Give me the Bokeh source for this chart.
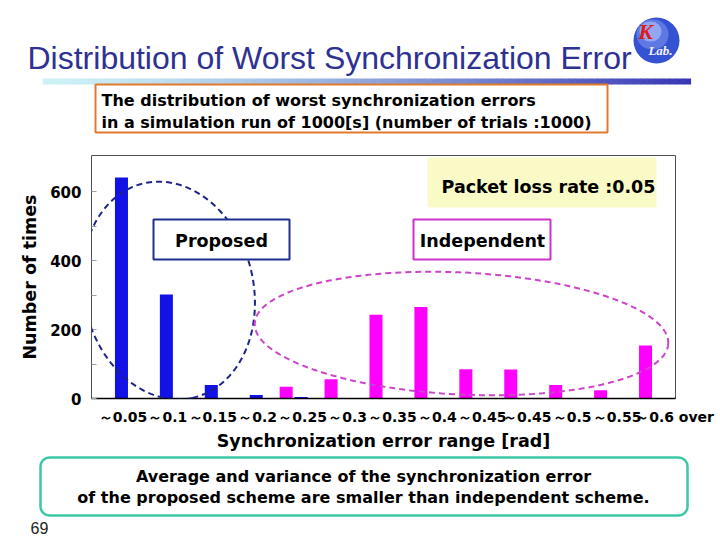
import numpy as np
from bokeh.plotting import figure
from bokeh.layouts import column
from bokeh.models import (ColumnDataSource, Range1d, FixedTicker, Label,
                          BoxAnnotation, PolyAnnotation)
from bokeh.transform import dodge
from bokeh.embed import file_html
from bokeh.resources import INLINE

# ---------------- data ----------------
ranges = ["～0.05", "～0.1", "～0.15", "～0.2", "～0.25", "～0.3", "～0.35",
          "～0.4", "～0.45", "～0.5", "～0.55", "～0.6", "0.6 over"]
tick_labels = ["～0.05", "～0.1", "～0.15", "～0.2", "～0.25", "～0.3", "～0.35",
               "～0.4", "～0.45", "～0.45", "～0.5", "～0.55", "～0.6 over"]
proposed = [642, 302, 39, 10, 4, 0, 0, 0, 0, 0, 0, 0, 0]
independent = [0, 0, 0, 0, 34, 56, 243, 266, 85, 84, 39, 24, 154]
y_ticks = [0, 100, 200, 300, 400, 500, 600]
y_tick_labels = ["0", "", "200", "", "400", "", "600"]

title_text = "Distribution of Worst Synchronization Error"
subtitle_lines = ["The distribution of worst synchronization errors",
                  "in a simulation run of 1000[s] (number of trials :1000)"]
note_lines = ["Average and variance of the synchronization error",
              "of the proposed scheme are smaller than independent scheme."]
loss_text = "Packet loss rate :0.05"
page_no = "69"

FONT = "DejaVu Sans"
W = 720
H_HEAD, H_CHART, H_FOOT = 146, 308, 86
CHART_TOP = H_HEAD               # page y of chart canvas top
FOOT_TOP = CHART_TOP + H_CHART   # page y of footer canvas top
FRAME_L, FRAME_R, FRAME_T, FRAME_B = 91, 675, 155, 398   # page coords

n = len(ranges)

# ---------------- chart ----------------
p = figure(width=W, height=H_CHART, x_range=Range1d(0, n), y_range=Range1d(0, 706),
           title=None, output_backend="svg", toolbar_location=None, frame_align=False,
           min_border_left=FRAME_L, min_border_right=W - FRAME_R,
           min_border_top=FRAME_T - CHART_TOP, min_border_bottom=CHART_TOP + H_CHART - FRAME_B)
p.outline_line_color = "#505050"
p.outline_line_width = 1
p.xgrid.visible = False
p.ygrid.visible = False
p.background_fill_color = "white"
p.border_fill_color = "white"

# y axis
p.yaxis.ticker = FixedTicker(ticks=y_ticks)
p.yaxis.major_label_overrides = {t: l for t, l in zip(y_ticks, y_tick_labels)}
p.yaxis.axis_line_color = None
p.yaxis.major_tick_in = 5
p.yaxis.major_tick_out = 0
p.yaxis.major_tick_line_color = "#a0a0a0"
p.yaxis.minor_tick_line_color = None
p.yaxis.major_label_text_font = FONT
p.yaxis.major_label_text_font_size = "15px"
p.yaxis.major_label_text_font_style = "bold"
p.yaxis.major_label_text_color = "black"
p.yaxis.major_label_standoff = 10
p.yaxis.axis_label = "Number of times"
p.yaxis.axis_label_text_font = FONT
p.yaxis.axis_label_text_font_size = "17.5px"
p.yaxis.axis_label_text_font_style = "bold"
p.yaxis.axis_label_text_color = "black"
p.yaxis.axis_label_standoff = 7

# x axis: one slot per range bin; labels nudged right and de-overlapped
px_per_cat = (FRAME_R - FRAME_L) / n
LABEL_PX = 14


def text_w(s):
    return sum(LABEL_PX * (1.0 if ch == "～" else 0.36 if ch in ". " else 0.66) for ch in s)


tick_pos = []
prev_right = -1e9
right_limit = n + (W - FRAME_R - 3) / px_per_cat
for i, s in enumerate(tick_labels):
    w = text_w(s) / px_per_cat
    c = i + 0.5 + 0.2
    c = max(c, prev_right - 4 / px_per_cat + w / 2)
    c = min(c, right_limit - w / 2, n - 0.02)
    c = round(c, 4)
    tick_pos.append(c)
    prev_right = c + w / 2

xax = p.xaxis[0]
xax.ticker = FixedTicker(ticks=tick_pos)
xax.major_label_overrides = {c: s for c, s in zip(tick_pos, tick_labels)}
xax.major_tick_line_color = None
xax.minor_tick_line_color = None
xax.axis_line_color = "black"
xax.axis_line_width = 1.5
xax.major_label_text_font = FONT
xax.major_label_text_font_size = f"{LABEL_PX}px"
xax.major_label_text_font_style = "bold"
xax.major_label_text_color = "black"
xax.major_label_standoff = 4
xax.axis_label = "Synchronization error range [rad]"
xax.axis_label_text_font = FONT
xax.axis_label_text_font_size = "17.5px"
xax.axis_label_text_font_style = "bold"
xax.axis_label_text_color = "black"
xax.axis_label_standoff = 3

# bars (slot i centred at i + 0.5)
src = ColumnDataSource(dict(cat=ranges, slot=[i + 0.5 for i in range(n)],
                            proposed=proposed, independent=independent))
p.vbar(x=dodge("slot", 0.167), top="proposed", width=0.29, source=src,
       fill_color="#1212e6", line_color=None)
p.vbar(x=dodge("slot", -0.167), top="independent", width=0.29, source=src,
       fill_color="#ff00ff", line_color=None)


# ---------------- decoration helpers ----------------
def deco_fig(h):
    f = figure(width=W, height=h, x_range=Range1d(0, W), y_range=Range1d(0, h),
               x_axis_type=None, y_axis_type=None, title=None, toolbar_location=None,
               output_backend="svg", min_border=0, outline_line_color=None,
               frame_align=False)
    f.background_fill_color = "white"
    f.border_fill_color = "white"
    return f


head = deco_fig(H_HEAD)
foot = deco_fig(H_FOOT)


def mapper(fig):
    if fig is p:
        return (lambda x: x), (lambda y: y - CHART_TOP), "canvas"
    if fig is head:
        return (lambda x: x), (lambda y: H_HEAD - y), "data"
    return (lambda x: x), (lambda y: H_FOOT - (y - FOOT_TOP)), "data"


def box(fig, l, t, r, b, fill=None, line=None, lw=1, radius=0):
    mx, my, u = mapper(fig)
    yt, yb = my(t), my(b)
    if u == "data":
        yt, yb = max(yt, yb), min(yt, yb)
    fig.add_layout(BoxAnnotation(left=mx(l), right=mx(r), top=yt, bottom=yb,
                                 left_units=u, right_units=u, top_units=u, bottom_units=u,
                                 fill_color=fill, fill_alpha=1 if fill else 0,
                                 line_color=line, line_alpha=1 if line else 0,
                                 line_width=lw, border_radius=radius))


def label(fig, x, y, text, size, color="black", align="center", baseline="middle",
          font=FONT, style="bold"):
    mx, my, u = mapper(fig)
    fig.add_layout(Label(x=mx(x), y=my(y), x_units=u, y_units=u, text=text,
                         text_font=font, text_font_size=f"{size}px", text_font_style=style,
                         text_color=color, text_align=align, text_baseline=baseline))


tt = np.linspace(0, 2 * np.pi, 241)


def ellipse(fig, xc, yc, a, b, ang, color):
    mx, my, u = mapper(fig)
    th = np.radians(ang)
    ux, uy = np.cos(th), np.sin(th)
    vx, vy = -np.sin(th), np.cos(th)
    xs = xc + a * np.cos(tt) * ux + b * np.sin(tt) * vx
    ys = yc + a * np.cos(tt) * uy + b * np.sin(tt) * vy
    fig.add_layout(PolyAnnotation(xs=[float(mx(v)) for v in xs], ys=[float(my(v)) for v in ys],
                                  xs_units=u, ys_units=u,
                                  fill_color=None, fill_alpha=0,
                                  line_color=color, line_alpha=1, line_width=2,
                                  line_dash="6 4"))


# ---------------- header ----------------
n_seg = 90
x0, x1 = 42, 690
c0 = np.array([205, 242, 246])
c1 = np.array([56, 56, 182])
for i in range(n_seg):
    f = (i / (n_seg - 1)) ** 1.3
    c = (c0 + (c1 - c0) * f).astype(int)
    col = "#%02x%02x%02x" % tuple(c)
    xa = x0 + (x1 - x0) * i / n_seg
    xb = x0 + (x1 - x0) * (i + 1) / n_seg + 0.6
    box(head, xa, 78, xb, 84, fill=col)

label(head, 27, 57, title_text, 32, color="#2e3192", align="left", baseline="middle",
      font="Liberation Sans", style="normal")

# logo
box(head, 633, 17, 679, 63, fill="#3452d2", radius=23)
box(head, 636, 19, 668, 49, fill="#5f78e4", radius=16)
box(head, 639, 21, 661, 41, fill="#93a6f2", radius=11)
label(head, 645, 31, "K", 22, color="#e01818", font="Liberation Serif", style="bold italic")
label(head, 660, 50, "Lab.", 13, color="#f4f4ff", font="Liberation Serif", style="bold italic")

# subtitle box
box(head, 95, 84, 607, 132, fill="white", line="#e07a2c", lw=2)
label(head, 101, 100, subtitle_lines[0], 16, align="left")
label(head, 101, 122, subtitle_lines[1], 16, align="left")

# ---------------- chart overlays ----------------
ellipse(p, 168, 290, 110, 85, 77, "#1c2488")
ellipse(p, 461, 333, 207, 61, 2.8, "#cc44cc")

box(p, 427, 157, 656, 207, fill="#fafac6")
label(p, 548, 186, loss_text, 17.5)
box(p, 153, 219, 289, 259, fill="white", line="#1f2f8f", lw=2)
label(p, 221, 240, "Proposed", 17.5)
box(p, 413, 219, 550, 259, fill="white", line="#cc33cc", lw=2)
label(p, 482, 240, "Independent", 17.5)

# ---------------- footer ----------------
box(foot, 40, 457, 687, 515, fill="white", line="#3cc7a5", lw=2.5, radius=9)
label(foot, 363, 476, note_lines[0], 16)
label(foot, 363, 497, note_lines[1], 16)
label(foot, 30, 527, page_no, 16, color="#222222", align="left", font="Liberation Sans",
      style="normal")

layout = column(head, p, foot, spacing=0)
open("out.html", "w").write(file_html(layout, INLINE))
